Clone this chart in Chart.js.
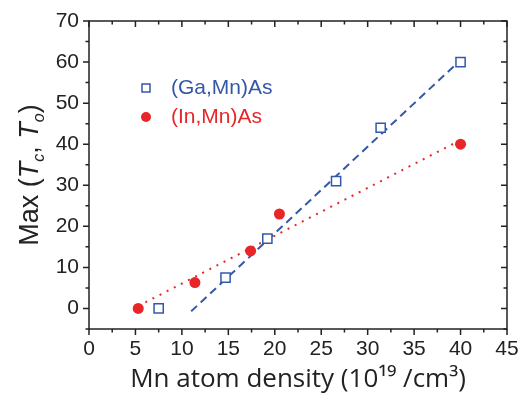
<!DOCTYPE html>
<html>
<head>
<meta charset="utf-8">
<script src="https://cdn.jsdelivr.net/npm/chart.js@4.4.1/dist/chart.umd.min.js"></script>
<style>
  html, body { margin: 0; padding: 0; background: #fff; }
  #wrap { width: 521px; height: 396px; }
</style>
</head>
<body>
<div id="wrap"><canvas id="chart" width="521" height="396"></canvas></div>
<script>
// --- Data ---
const gaDensity = [7.5, 14.7, 19.2, 26.6, 31.4, 40.0];
const gaTemp = [0, 7.5, 17, 31, 44, 60];
const inDensity = [5.3, 11.4, 17.4, 20.5, 40.0];
const inTemp = [0, 6.3, 14, 23, 40];
// fit lines (end points)
const gaFitX = [11.0, 40.0];
const gaFitY = [-0.7, 60.5];
const inFitX = [5.3, 40.0];
const inFitY = [0.6, 41.0];

const xTicks = [0, 5, 10, 15, 20, 25, 30, 35, 40, 45];
const yTicks = [0, 10, 20, 30, 40, 50, 60, 70];

const BLUE = '#3458a8';
const RED = '#e8262a';
const INK = '#222';

const toPts = (xs, ys) => xs.map((x, i) => ({ x: x, y: ys[i] }));

// --- Plugins ---
const frameTicks = {
    id: 'frameTicks',
    afterDraw(chart) {
        const { ctx, chartArea: a, scales } = chart;
        ctx.save();
        ctx.strokeStyle = INK;
        ctx.lineWidth = 1.5;
        ctx.strokeRect(a.left, a.top, a.right - a.left, a.bottom - a.top);
        const major = 6, minor = 3.5;
        ctx.beginPath();
        for (let v = 0; v <= 45; v += 2.5) {
            const px = scales.x.getPixelForValue(v);
            const len = xTicks.includes(v) ? major : minor;
            ctx.moveTo(px, a.bottom); ctx.lineTo(px, a.bottom + len);
            ctx.moveTo(px, a.top); ctx.lineTo(px, a.top + len);
        }
        for (let v = -5; v <= 70; v += 5) {
            const py = scales.y.getPixelForValue(v);
            const len = yTicks.includes(v) ? major : minor;
            ctx.moveTo(a.left, py); ctx.lineTo(a.left - len, py);
            ctx.moveTo(a.right, py); ctx.lineTo(a.right - len, py);
        }
        ctx.stroke();
        ctx.restore();
    }
};

const legendBox = {
    id: 'legendBox',
    afterDraw(chart) {
        const { ctx } = chart;
        ctx.save();
        ctx.font = '21px "Liberation Sans", Arial, sans-serif';
        ctx.textBaseline = 'middle';
        // (Ga,Mn)As
        ctx.strokeStyle = BLUE;
        ctx.lineWidth = 1.5;
        ctx.strokeRect(142, 84, 8, 8);
        ctx.fillStyle = BLUE;
        ctx.fillText('(Ga,Mn)As', 171, 88);
        // (In,Mn)As
        ctx.fillStyle = RED;
        ctx.beginPath();
        ctx.arc(146, 117, 5, 0, Math.PI * 2);
        ctx.fill();
        ctx.fillText('(In,Mn)As', 171, 117);
        ctx.restore();
    }
};

const yTitle = {
    id: 'yTitle',
    afterDraw(chart) {
        const { ctx, chartArea: a } = chart;
        const fam = '"Liberation Sans", Arial, sans-serif';
        const parts = [
            { t: 'Max (', f: `27px ${fam}`, dy: 0 },
            { t: 'T', f: `italic 27px ${fam}`, dy: 0 },
            { t: 'c', f: `italic 16px ${fam}`, dy: 6 },
            { t: ', ', f: `27px ${fam}`, dy: 0 },
            { t: 'T', f: `italic 27px ${fam}`, dy: 0 },
            { t: 'o', f: `italic 16px ${fam}`, dy: 6 },
            { t: ')', f: `27px ${fam}`, dy: 0 }
        ];
        ctx.save();
        let total = 0;
        parts.forEach(p => { ctx.font = p.f; p.w = ctx.measureText(p.t).width; total += p.w; });
        ctx.translate(38, (a.top + a.bottom) / 2);
        ctx.rotate(-Math.PI / 2);
        ctx.fillStyle = INK;
        ctx.textBaseline = 'alphabetic';
        let x = -total / 2;
        parts.forEach(p => { ctx.font = p.f; ctx.fillText(p.t, x, p.dy); x += p.w; });
        ctx.restore();
    }
};

// --- Chart ---
new Chart(document.getElementById('chart'), {
    type: 'scatter',
    data: {
        datasets: [
            {
                label: '(Ga,Mn)As',
                data: toPts(gaDensity, gaTemp),
                pointStyle: 'rect',
                pointRadius: 6.5,
                pointBorderWidth: 1.5,
                borderColor: BLUE,
                backgroundColor: 'rgba(255,255,255,1)',
                order: 0
            },
            {
                label: '(In,Mn)As',
                data: toPts(inDensity, inTemp),
                pointStyle: 'circle',
                pointRadius: 5.5,
                pointBorderWidth: 0,
                borderColor: RED,
                backgroundColor: RED,
                order: 0
            },
            {
                label: 'Ga fit',
                data: toPts(gaFitX, gaFitY),
                showLine: true,
                pointRadius: 0,
                borderColor: BLUE,
                borderWidth: 2,
                borderDash: [8, 5],
                order: 1
            },
            {
                label: 'In fit',
                data: toPts(inFitX, inFitY),
                showLine: true,
                pointRadius: 0,
                borderColor: RED,
                borderWidth: 2,
                borderDash: [2, 6],
                order: 1
            }
        ]
    },
    options: {
        responsive: false,
        animation: false,
        layout: { padding: { left: 0, right: 14, top: 21, bottom: 0 } },
        plugins: { legend: { display: false }, tooltip: { enabled: false } },
        scales: {
            x: {
                type: 'linear', min: 0, max: 45,
                afterFit: (s) => { s.height = 67; },
                ticks: {
                    stepSize: 5, maxRotation: 0, padding: 2, color: INK, autoSkip: false,
                    font: { family: '"Liberation Sans", Arial, sans-serif', size: 21 }
                },
                grid: { drawOnChartArea: false, color: 'rgba(0,0,0,0)', tickLength: 6 },
                border: { display: false },
                title: {
                    display: true, text: 'Mn atom density (10¹⁹ /cm³)', color: INK,
                    font: { family: '"Open Sans", sans-serif', size: 26 }, padding: { top: 0, bottom: 1 }
                }
            },
            y: {
                type: 'linear', min: -5, max: 70,
                afterFit: (s) => { s.width = 89; },
                ticks: {
                    stepSize: 5, padding: 4, color: INK, autoSkip: false,
                    callback: (v) => (v >= 0 && v % 10 === 0) ? String(v) : '',
                    font: { family: '"Liberation Sans", Arial, sans-serif', size: 21 }
                },
                grid: { drawOnChartArea: false, color: 'rgba(0,0,0,0)', tickLength: 6 },
                border: { display: false }
            }
        }
    },
    plugins: [frameTicks, legendBox, yTitle]
});
</script>
</body>
</html>
